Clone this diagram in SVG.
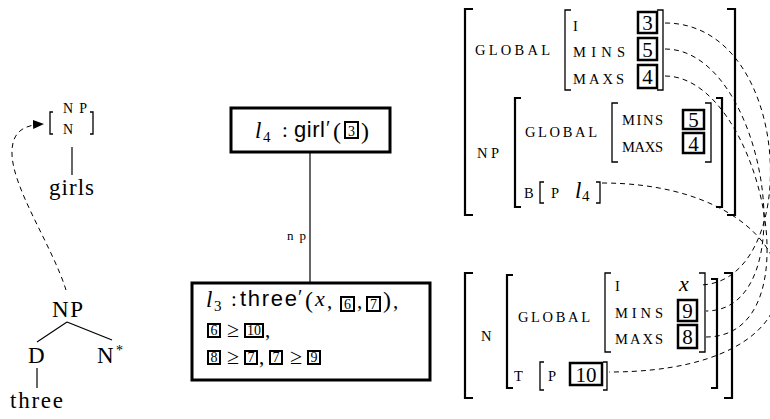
<svg xmlns="http://www.w3.org/2000/svg" width="770" height="419" viewBox="0 0 770 419">
<defs>
<marker id="arr" markerWidth="11" markerHeight="9" refX="10" refY="4.5" orient="auto" markerUnits="userSpaceOnUse">
<path d="M0,0 L11,4.5 L0,9 Z" fill="#000"/>
</marker>
<style>
.ln{stroke:#000;stroke-width:1.2;fill:none}
.bk{stroke:#000;stroke-width:2.2;fill:none}
.bt{stroke:#000;stroke-width:1.3;fill:none}
.tag{stroke:#000;stroke-width:2.5;fill:#fff}
.tg{stroke:#000;stroke-width:2;fill:#fff}
.dash{stroke:#000;stroke-width:1;fill:none;stroke-dasharray:5 4}
.box{stroke:#000;stroke-width:3;fill:#fff}
</style>
</defs>
<rect width="770" height="419" fill="#fff"/>

<g font-family="'Liberation Serif', 'Times New Roman', 'DejaVu Serif', serif" fill="#000">
<!-- left tree -->
<g id="np-n">
<path class="bt" d="M53,112 H50 V134 H53"/>
<path class="bt" d="M90,112 H93 V134 H90"/>
<text x="63" y="113" font-size="14" textLength="24" lengthAdjust="spacing">NP</text>
<text x="63" y="134" font-size="14">N</text>
</g>
<g id="girls">
<text x="49" y="195" font-size="23" textLength="45" lengthAdjust="spacing">girls</text>
</g>
<g id="np-root">
<text x="52" y="317" font-size="23" textLength="31" lengthAdjust="spacing">NP</text>
</g>
<g id="d">
<text x="28" y="363" font-size="23">D</text>
</g>
<g id="nstar">
<text x="97" y="363" font-size="23">N</text>
<text x="116" y="355" font-size="14">*</text>
</g>
<g id="three">
<text x="10" y="408" font-size="23" textLength="53" lengthAdjust="spacing">three</text>
</g>

<!-- middle boxes -->
<g id="box-girl">
<rect class="box" x="231" y="108" width="159" height="44"/>
<text x="255" y="138" font-size="23" font-style="italic">l</text>
<text x="263" y="142" font-size="15">4</text>
<text x="282" y="137" font-size="21">:</text>
<text x="294" y="137" font-size="22" font-family="'Liberation Sans', Arial, sans-serif" textLength="31" lengthAdjust="spacing">girl</text>
<text x="326" y="135" font-size="20">′</text>
<text x="333" y="139" font-size="24">(</text>
<rect class="tg" x="345" y="122" width="13" height="16"/>
<text x="351.5" y="135.5" font-size="14" text-anchor="middle">3</text>
<text x="361" y="139" font-size="24">)</text>
</g>

<g id="box-three">
<rect class="box" x="192" y="283" width="238" height="97"/>
<text x="206" y="307" font-size="23" font-style="italic">l</text>
<text x="214" y="311" font-size="15">3</text>
<text x="231" y="306" font-size="21">:</text>
<text x="240" y="306" font-size="22" font-family="'Liberation Sans', Arial, sans-serif" textLength="57" lengthAdjust="spacing">three</text>
<text x="298" y="304" font-size="20">′</text>
<text x="305" y="308" font-size="24">(</text>
<text x="315" y="306" font-size="22" font-style="italic">x</text>
<text x="327" y="308" font-size="21">,</text>
<rect class="tg" x="341" y="297" width="13" height="14"/>
<text x="347.5" y="309" font-size="14" text-anchor="middle">6</text>
<text x="357" y="308" font-size="21">,</text>
<rect class="tg" x="367" y="297" width="13" height="14"/>
<text x="373.5" y="309" font-size="14" text-anchor="middle">7</text>
<text x="383" y="308" font-size="24">)</text>
<text x="393" y="308" font-size="21">,</text>

<rect class="tg" x="208" y="324" width="12" height="13"/>
<text x="214" y="335" font-size="14" text-anchor="middle">6</text>
<text x="233" y="337" font-size="22" text-anchor="middle">≥</text>
<rect class="tg" x="245" y="324" width="18" height="13"/>
<text x="254" y="335" font-size="14" text-anchor="middle">10</text>
<text x="265" y="337" font-size="21">,</text>

<rect class="tg" x="208" y="351" width="12" height="13"/>
<text x="214" y="362" font-size="14" text-anchor="middle">8</text>
<text x="233" y="364" font-size="22" text-anchor="middle">≥</text>
<rect class="tg" x="245" y="351" width="12" height="13"/>
<text x="251" y="362" font-size="14" text-anchor="middle">7</text>
<text x="259" y="364" font-size="21">,</text>
<rect class="tg" x="270" y="351" width="12" height="13"/>
<text x="276" y="362" font-size="14" text-anchor="middle">7</text>
<text x="296" y="364" font-size="22" text-anchor="middle">≥</text>
<rect class="tg" x="308" y="351" width="12" height="13"/>
<text x="314" y="362" font-size="14" text-anchor="middle">9</text>
</g>

<!-- top AVM -->
<g id="avm-np" font-size="14.5">
<path class="bk" d="M473,9 H465 V215 H473"/>
<path class="bk" d="M727,9 H735 V215 H727"/>
<text x="475" y="55" textLength="75" lengthAdjust="spacing">GLOBAL</text>
<path class="bt" d="M571,10 H565 V90 H571"/>
<path class="bt" d="M657,10 H663 V90 H657"/>
<text x="573" y="31">I</text>
<text x="573" y="57" textLength="52" lengthAdjust="spacing">MINS</text>
<text x="573" y="84" textLength="51" lengthAdjust="spacing">MAXS</text>
<rect class="tag" x="638" y="12" width="19" height="21"/>
<text x="647.5" y="30" font-size="21" text-anchor="middle">3</text>
<rect class="tag" x="638" y="38" width="19" height="22"/>
<text x="647.5" y="57" font-size="21" text-anchor="middle">5</text>
<rect class="tag" x="638" y="65" width="19" height="23"/>
<text x="647.5" y="84" font-size="21" text-anchor="middle">4</text>

<text x="477" y="158" textLength="22" lengthAdjust="spacing">NP</text>
<path class="bk" d="M521,98 H515 V207 H521"/>
<path class="bk" d="M716,98 H722 V207 H716"/>
<text x="525" y="137" textLength="72" lengthAdjust="spacing">GLOBAL</text>
<path class="bt" d="M618,103 H612 V162 H618"/>
<path class="bt" d="M705,103 H711 V162 H705"/>
<text x="622" y="125" textLength="41" lengthAdjust="spacing">MINS</text>
<text x="622" y="152" textLength="41" lengthAdjust="spacing">MAXS</text>
<rect class="tag" x="683" y="110" width="21" height="19"/>
<text x="693.5" y="127" font-size="21" text-anchor="middle">5</text>
<rect class="tag" x="683" y="133" width="21" height="20"/>
<text x="693.5" y="151" font-size="21" text-anchor="middle">4</text>
<text x="524" y="198">B</text>
<path class="bt" d="M544,182 H540 V203 H544"/>
<text x="551" y="198">P</text>
<text x="575" y="198" font-size="23" font-style="italic">l</text>
<text x="582" y="201" font-size="15">4</text>
<path class="bt" d="M596,182 H600 V203 H596"/>
</g>

<!-- bottom AVM -->
<g id="avm-n" font-size="14.5">
<path class="bk" d="M473,273 H465 V398 H473"/>
<path class="bk" d="M724,273 H732 V398 H724"/>
<text x="481" y="341">N</text>
<path class="bk" d="M513,275 H507 V388 H513"/>
<path class="bk" d="M711,279 H717 V388 H711"/>
<text x="518" y="322" textLength="72" lengthAdjust="spacing">GLOBAL</text>
<path class="bt" d="M611,273 H605 V352 H611"/>
<path class="bt" d="M699,273 H705 V352 H699"/>
<text x="615" y="291">I</text>
<text x="679" y="291" font-size="22" font-style="italic">x</text>
<text x="615" y="318" textLength="48" lengthAdjust="spacing">MINS</text>
<text x="615" y="344" textLength="48" lengthAdjust="spacing">MAXS</text>
<rect class="tag" x="678" y="300" width="19" height="21"/>
<text x="687.5" y="318" font-size="21" text-anchor="middle">9</text>
<rect class="tag" x="678" y="325" width="19" height="23"/>
<text x="687.5" y="344" font-size="21" text-anchor="middle">8</text>
<text x="514" y="381">T</text>
<path class="bt" d="M544,362 H540 V390 H544"/>
<text x="548" y="381">P</text>
<rect class="tag" x="570" y="363" width="32" height="22"/>
<text x="586" y="382" font-size="21" text-anchor="middle">10</text>
<path class="bt" d="M603,362 H607 V390 H603"/>
</g>

<!-- connectors -->
<g id="connectors">
<line class="ln" x1="72" y1="147" x2="72" y2="175"/>
<line class="ln" x1="67" y1="322" x2="37" y2="342"/>
<line class="ln" x1="67" y1="322" x2="112" y2="340"/>
<line class="ln" x1="37" y1="368" x2="37" y2="388"/>
<path class="dash" d="M66,290 C52,245 10,185 12,150 C13,133 22,125 43,124" marker-end="url(#arr)"/>
<line class="ln" x1="310" y1="152" x2="310" y2="283"/>
<text x="306" y="240" font-size="13" text-anchor="end" textLength="19" lengthAdjust="spacing">np</text>
<path class="dash" d="M665,23 C795,23 803,285 699,285"/>
<path class="dash" d="M665,49 C765,49 807,311 706,311"/>
<path class="dash" d="M665,76 C759,76 818,337 706,337"/>
<path class="dash" d="M602,183 C815,183 857,372 609,372"/>
</g>
</g>
</svg>
